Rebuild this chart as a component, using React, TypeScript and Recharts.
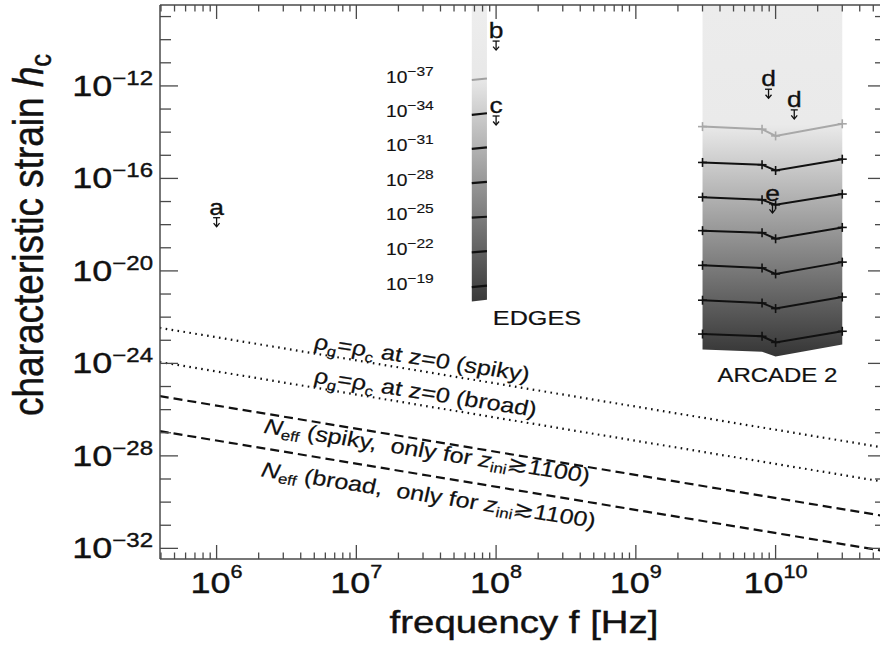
import React from "react";
import { ComposedChart, Line, Area, XAxis, YAxis, ReferenceDot, ReferenceLine } from "recharts";

// upper limits (frequency in Hz, strain)
const limitNames = ["a", "b", "c", "d", "d", "e"];
const limitFreq = [1e6, 1e8, 1e8, 8.9e9, 1.36e10, 9.5e9];
const limitStrain = [2.0e-18, 8.7e-11, 5.0e-14, 7.2e-13, 9.2e-14, 7.9e-18];

// EDGES band
const edgesFreq = [6.7e7, 8.6e7];
const edgesContours = [
  [1.8e-12, 2.1e-12],
  [5.6e-14, 6.6e-14],
  [1.9e-15, 2.2e-15],
  [6.3e-17, 7.1e-17],
  [2.0e-18, 2.2e-18],
  [6.3e-20, 7.2e-20],
  [2.0e-21, 2.3e-21],
];
const edgesFloor = [4.8e-22, 5.6e-22];
const contourExponents = ["−37", "−34", "−31", "−28", "−25", "−22", "−19"];

// ARCADE 2 band
const arcadeFreq = [3e9, 8e9, 1e10, 3e10];
const arcadeContours = [
  [1.74e-14, 1.35e-14, 6.9e-15, 2.3e-14],
  [4.9e-16, 3.9e-16, 2.2e-16, 6.8e-16],
  [1.55e-17, 1.2e-17, 7.2e-18, 2.1e-17],
  [5.5e-19, 4.5e-19, 2.45e-19, 7.6e-19],
  [1.74e-20, 1.35e-20, 7.4e-21, 2.4e-20],
  [5.4e-22, 4.1e-22, 2.35e-22, 7.4e-22],
  [1.86e-23, 1.48e-23, 8.1e-24, 2.45e-23],
];
const arcadeFloor = [4.0e-24, 3.2e-24, 2.0e-24, 6.5e-24];

// straight bounds
const boundFreq = [1e5, 1e11];
const rhoSpiky = [1.35e-22, 1.35e-28];
const rhoBroad = [4.5e-24, 4.5e-30];
const neffSpiky = [1.5e-25, 1.5e-31];
const neffBroad = [4.6e-27, 4.6e-33];

const FONT = '"Liberation Sans", Arial, Helvetica, sans-serif';
const AXIS = "#4a4a4a";
const INK = "#111";
const W = 900;
const H = 647;
const PLOT_TOP = 5;
const PLOT_RIGHT = 886;
const SX = 1.2;
const X_MIN = Math.pow(10, 5.595);
const X_MAX = Math.pow(10, 10.79);
const Y_MIN = Math.pow(10, -32.46);
const Y_MAX = Math.pow(10, -8.5);

const xTicks: number[] = [];
for (let e = 5; e <= 10; e++) {
  for (let m = 1; m <= 9; m++) {
    const v = m * Math.pow(10, e);
    if (v >= X_MIN && v <= X_MAX) xTicks.push(v);
  }
}
const yTicks: number[] = [];
for (let e = -32; e <= -9; e++) yTicks.push(Math.pow(10, e));

const pts = (fs: number[], hs: number[]) => fs.map((f, i) => ({ f, h: hs[i] }));
const band = (fs: number[], floor: number[]) => fs.map((f, i) => ({ f, range: [floor[i], Y_MAX] }));

const XTick = (props: any) => {
  const { x, y, payload } = props;
  const lg = Math.log10(payload.value);
  const e = Math.round(lg);
  const major = Math.abs(lg - e) < 1e-6;
  const len = major ? 14 : 6.5;
  return (
    <g>
      <line x1={x} x2={x} y1={y} y2={y - len} stroke={AXIS} strokeWidth={1.3} />
      <line x1={x} x2={x} y1={PLOT_TOP} y2={PLOT_TOP + len} stroke={AXIS} strokeWidth={1.3} />
      {major && (
        <text transform={`translate(${x},${y + 34}) scale(${SX},1)`} textAnchor="middle" fontFamily={FONT} fontSize={30} fill={INK} stroke={INK} strokeWidth={0.4}>
          10<tspan fontSize={18} dy={-15}>{e}</tspan>
        </text>
      )}
    </g>
  );
};

const YTick = (props: any) => {
  const { x, y, payload } = props;
  const e = Math.round(Math.log10(payload.value));
  const major = e % 4 === 0;
  const len = major ? 18 : 11;
  return (
    <g>
      <line x1={x} x2={x + len} y1={y} y2={y} stroke={AXIS} strokeWidth={1.3} />
      <line x1={PLOT_RIGHT} x2={PLOT_RIGHT - len} y1={y} y2={y} stroke={AXIS} strokeWidth={1.3} />
      {major && (
        <text transform={`translate(${x - 7},${y + 10}) scale(${SX},1)`} textAnchor="end" fontFamily={FONT} fontSize={30} fill={INK} stroke={INK} strokeWidth={0.4}>
          10<tspan fontSize={20} dy={-11}>{`−${-e}`}</tspan>
        </text>
      )}
    </g>
  );
};

const LimitDot = (p: any) => {
  const { cx, cy, index } = p;
  if (cx == null || cy == null) return <g key={index} />;
  return (
    <g key={index} stroke={INK} strokeWidth={1.3} fill="none">
      <line x1={cx - 3.5} x2={cx + 3.5} y1={cy} y2={cy} />
      <line x1={cx} x2={cx} y1={cy} y2={cy + 9} />
      <polyline points={`${cx - 3},${cy + 5.5} ${cx},${cy + 9} ${cx + 3},${cy + 5.5}`} />
      <text transform={`translate(${cx},${cy - 3}) scale(${SX},1)`} textAnchor="middle" fontFamily={FONT} fontSize={22} fill={INK} stroke={INK} strokeWidth={0.3}>
        {limitNames[index]}
      </text>
    </g>
  );
};

const plusDot = (color: string) => (p: any) => {
  const { cx, cy, index } = p;
  return (
    <g key={index} stroke={color} strokeWidth={1.6}>
      <line x1={cx - 4.5} x2={cx + 4.5} y1={cy} y2={cy} />
      <line x1={cx} x2={cx} y1={cy - 4.5} y2={cy + 4.5} />
    </g>
  );
};

const LABEL_ROT = 10.5;

const rhoLabel = (tag: string) => (p: any) => (
  <text transform={`translate(${p.cx},${p.cy}) scale(${SX},1) rotate(${LABEL_ROT})`} fontFamily={FONT} fontSize={21} fill={INK} stroke={INK} strokeWidth={0.2} style={{ whiteSpace: "pre" }}>
    ρ<tspan fontSize={14} dy={5}>g</tspan>
    <tspan dy={-5}>=ρ</tspan>
    <tspan fontSize={14} dy={5}>c</tspan>
    <tspan dy={-5}>{` at z=0 (${tag})`}</tspan>
  </text>
);

const neffLabel = (tag: string) => (p: any) => (
  <text transform={`translate(${p.cx},${p.cy}) scale(${SX},1) rotate(${LABEL_ROT})`} fontFamily={FONT} fontSize={21} fill={INK} stroke={INK} strokeWidth={0.2} style={{ whiteSpace: "pre" }}>
    <tspan fontStyle="italic">N</tspan>
    <tspan fontSize={14} dy={4}>eff</tspan>
    <tspan dy={-4}>{` (${tag},  only for `}</tspan>
    <tspan fontStyle="italic">z</tspan>
    <tspan fontSize={14} dy={4}>ini</tspan>
    <tspan dy={-4}>≳1100)</tspan>
  </text>
);

const plainLabel = (txt: string, size: number) => (p: any) => (
  <text transform={`translate(${p.cx},${p.cy}) scale(${SX},1)`} textAnchor="middle" fontFamily={FONT} fontSize={size} fill={INK} stroke={INK} strokeWidth={0.2}>
    {txt}
  </text>
);

const contourLabel = (exp: string) => (p: any) => (
  <text transform={`translate(${p.cx},${p.cy + 2.5}) scale(${SX},1)`} fontFamily={FONT} fontSize={16} fill={INK} stroke={INK} strokeWidth={0.15}>
    10<tspan fontSize={13} dy={-7}>{exp}</tspan>
  </text>
);

const xTitle = () => (
  <text transform={`translate(524,633) scale(${SX},1)`} textAnchor="middle" fontFamily={FONT} fontSize={32} fill={INK} stroke={INK} strokeWidth={0.4}>
    frequency f [Hz]
  </text>
);

const yTitle = () => (
  <text transform={`translate(43,235) scale(1.15,1) rotate(-90)`} textAnchor="middle" fontFamily={FONT} fontSize={37} fill={INK} stroke={INK} strokeWidth={0.4}>
    characteristic strain <tspan fontStyle="italic">h</tspan>
    <tspan fontSize={25} dy={7}>c</tspan>
  </text>
);

export default function App() {
  return (
    <div style={{ position: "absolute", left: 0, top: 0, width: 880, height: 647, overflow: "hidden", background: "#fff" }}>
      <ComposedChart width={W} height={H} margin={{ top: PLOT_TOP, right: W - PLOT_RIGHT, bottom: 0, left: 0 }}>
        <defs>
          <linearGradient id="edgesGrad" x1="0" y1="0" x2="0" y2="1">
            <stop offset="0" stopColor="#eeeeee" />
            <stop offset="0.25" stopColor="#e8e8e8" />
            <stop offset="1" stopColor="#3a3a3a" />
          </linearGradient>
          <linearGradient id="arcadeGrad" x1="0" y1="0" x2="0" y2="1">
            <stop offset="0" stopColor="#ececec" />
            <stop offset="0.34" stopColor="#eaeaea" />
            <stop offset="0.4" stopColor="#dadada" />
            <stop offset="1" stopColor="#353535" />
          </linearGradient>
        </defs>
        <XAxis
          type="number"
          dataKey="f"
          scale="log"
          domain={[X_MIN, X_MAX]}
          allowDataOverflow
          ticks={xTicks}
          interval={0}
          tick={XTick}
          tickSize={0}
          tickMargin={0}
          tickLine={false}
          axisLine={{ stroke: AXIS, strokeWidth: 1.5 }}
          height={88}
          label={xTitle}
        />
        <YAxis
          type="number"
          scale="log"
          domain={[Y_MIN, Y_MAX]}
          allowDataOverflow
          ticks={yTicks}
          interval={0}
          tick={YTick}
          tickSize={0}
          tickMargin={0}
          tickLine={false}
          axisLine={{ stroke: AXIS, strokeWidth: 1.5 }}
          width={160}
          label={yTitle}
        />
        <ReferenceLine y={Y_MAX} stroke={AXIS} strokeWidth={1.5} />

        <Area data={band(edgesFreq, edgesFloor)} dataKey="range" type="linear" stroke="none" fill="url(#edgesGrad)" fillOpacity={1} isAnimationActive={false} />
        <Area data={band(arcadeFreq, arcadeFloor)} dataKey="range" type="linear" stroke="none" fill="url(#arcadeGrad)" fillOpacity={1} isAnimationActive={false} />

        {edgesContours.map((c, i) => (
          <Line key={`e${i}`} data={pts(edgesFreq, c)} dataKey="h" type="linear" stroke={i === 0 ? "#a0a0a0" : INK} strokeWidth={2.2} dot={false} activeDot={false} isAnimationActive={false} />
        ))}
        {arcadeContours.map((c, i) => (
          <Line key={`a${i}`} data={pts(arcadeFreq, c)} dataKey="h" type="linear" stroke={i === 0 ? "#a8a8a8" : INK} strokeWidth={2} dot={plusDot(i === 0 ? "#a8a8a8" : INK)} activeDot={false} isAnimationActive={false} />
        ))}

        <Line data={pts(boundFreq, rhoSpiky)} dataKey="h" type="linear" stroke={INK} strokeWidth={2.2} strokeDasharray="1.6 4.4" dot={false} activeDot={false} isAnimationActive={false} />
        <Line data={pts(boundFreq, rhoBroad)} dataKey="h" type="linear" stroke={INK} strokeWidth={2.2} strokeDasharray="1.6 4.4" dot={false} activeDot={false} isAnimationActive={false} />
        <Line data={pts(boundFreq, neffSpiky)} dataKey="h" type="linear" stroke={INK} strokeWidth={2.2} strokeDasharray="9 5" dot={false} activeDot={false} isAnimationActive={false} />
        <Line data={pts(boundFreq, neffBroad)} dataKey="h" type="linear" stroke={INK} strokeWidth={2.2} strokeDasharray="9 5" dot={false} activeDot={false} isAnimationActive={false} />

        <Line data={pts(limitFreq, limitStrain)} dataKey="h" stroke="none" dot={LimitDot} activeDot={false} isAnimationActive={false} />

        {contourExponents.map((ex, i) => (
          <ReferenceDot key={`cl${i}`} x={1.63e7} y={edgesContours[i][0]} r={0} shape={contourLabel(ex)} />
        ))}
        <ReferenceDot x={1.96e8} y={4.8e-23} r={0} shape={plainLabel("EDGES", 21)} />
        <ReferenceDot x={1.03e10} y={1.6e-25} r={0} shape={plainLabel("ARCADE 2", 20)} />
        <ReferenceDot x={4.9e6} y={4.4e-24} r={0} shape={rhoLabel("spiky")} />
        <ReferenceDot x={4.9e6} y={1.5e-25} r={0} shape={rhoLabel("broad")} />
        <ReferenceDot x={2.15e6} y={1.0e-27} r={0} shape={neffLabel("spiky")} />
        <ReferenceDot x={2.05e6} y={1.3e-29} r={0} shape={neffLabel("broad")} />
      </ComposedChart>
    </div>
  );
}
